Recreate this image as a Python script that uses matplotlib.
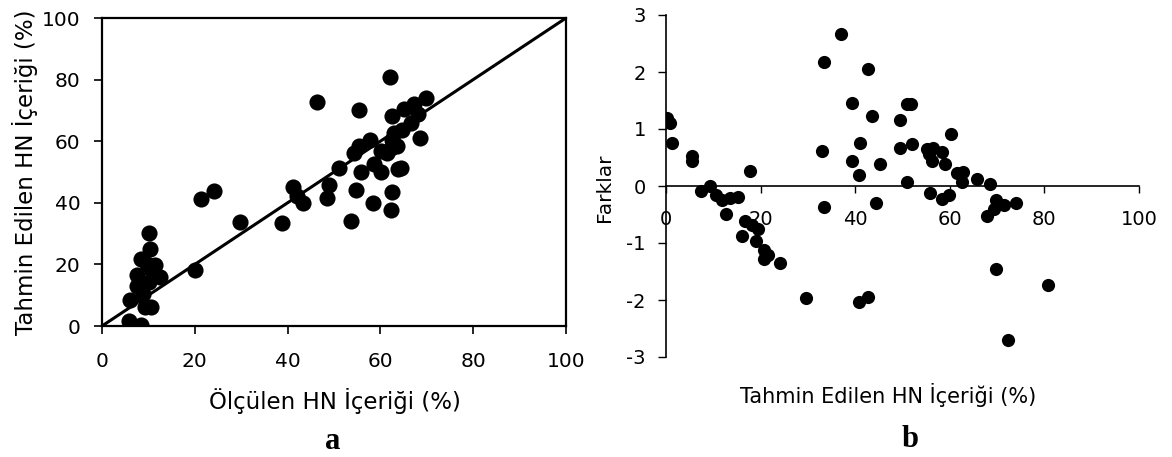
import matplotlib
matplotlib.use("Agg")
import matplotlib.pyplot as plt

plt.rcParams['font.family'] = ['DejaVu Sans']
plt.rcParams['axes.unicode_minus'] = False

# Panel a: measured vs predicted HN content (%)
measured = [62.1, 46.3, 55.3, 69.9, 67.3, 65.0, 62.5, 68.0, 66.5, 64.7,
            62.9, 68.6, 57.8, 55.3, 54.3, 63.5, 62.6, 60.1, 61.5, 62.2,
            58.6, 60.1, 64.4, 63.8, 51.1, 55.8, 48.9, 54.8, 62.6, 48.4,
            58.3, 62.2, 53.6, 41.2, 42.1, 43.3, 38.8, 29.8, 21.4, 24.1,
            20.1, 10.1, 10.4, 8.3, 11.4, 9.7, 7.6, 12.6, 10.8, 7.6,
            8.8, 6.1, 9.2, 10.6, 5.9, 8.4, 10.1]
predicted = [80.9, 72.6, 70.1, 73.9, 72.0, 70.3, 68.2, 68.8, 66.0, 63.7,
             62.6, 61.0, 60.4, 58.5, 56.3, 58.3, 60.4, 56.7, 56.1, 57.7,
             52.7, 50.0, 51.3, 51.0, 51.3, 50.0, 45.7, 44.3, 43.5, 41.7,
             39.8, 37.8, 34.1, 45.1, 42.2, 39.8, 33.3, 33.9, 41.1, 43.7,
             18.3, 30.1, 24.9, 21.7, 19.9, 20.1, 16.6, 16.0, 18.0, 12.9,
             10.4, 8.3, 6.1, 6.1, 1.6, 0.2, 14.2]
line_x = [0, 100]
line_y = [0, 100]

# Panel b: predicted vs differences
pred_b = [37.1, 33.3, 42.8, 39.3, 43.5, 50.9, 51.7, 49.5, 0.3, 0.8,
          1.2, 5.4, 5.6, 32.9, 41.0, 39.3, 40.7, 45.2, 49.5, 52.1,
          60.2, 55.1, 56.5, 58.3, 55.7, 56.2, 59.0, 61.5, 62.7, 62.5,
          65.8, 68.4, 50.9, 17.8, 7.5, 9.3, 10.6, 11.8, 13.5, 15.3,
          12.7, 16.6, 18.1, 19.5, 16.1, 19.0, 20.7, 21.5, 20.7, 24.2,
          29.6, 40.7, 42.8, 33.4, 44.4, 55.9, 58.3, 59.9, 67.9, 69.8,
          69.3, 71.5, 73.9, 69.8, 72.2, 80.7]
diff_b = [2.67, 2.17, 2.06, 1.46, 1.22, 1.44, 1.44, 1.15, 1.20, 1.10,
          0.76, 0.52, 0.44, 0.62, 0.76, 0.44, 0.20, 0.38, 0.66, 0.73,
          0.91, 0.65, 0.66, 0.59, 0.57, 0.44, 0.38, 0.22, 0.25, 0.07,
          0.13, 0.03, 0.07, 0.26, -0.09, 0.0, -0.16, -0.24, -0.21, -0.19,
          -0.49, -0.61, -0.68, -0.75, -0.87, -0.97, -1.12, -1.21, -1.28, -1.35,
          -1.96, -2.04, -1.95, -0.37, -0.29, -0.12, -0.22, -0.15, -0.52, -0.25,
          -0.40, -0.34, -0.29, -1.46, -2.71, -1.74]

ticks_a = [0, 20, 40, 60, 80, 100]
ticks_b_x = [0, 20, 40, 60, 80, 100]
ticks_b_y = [-3, -2, -1, 0, 1, 2, 3]

W, H = 1172, 457
fig = plt.figure(figsize=(W / 100, H / 100), dpi=100)

# ---------- Panel a ----------
axa = fig.add_axes([102 / W, 1 - 326 / H, 464 / W, 308 / H])
axa.scatter(measured, predicted, s=135, color='black', zorder=3, linewidths=0)
axa.plot(line_x, line_y, color='black', lw=2.2, zorder=2)
axa.set_xlim(0, 100)
axa.set_ylim(0, 100)
axa.set_xticks(ticks_a)
axa.set_yticks(ticks_a)
for s in axa.spines.values():
    s.set_linewidth(1.6)
axa.tick_params(axis='x', direction='out', length=5.5, width=1.2, pad=13, labelsize=14.5)
axa.tick_params(axis='y', direction='out', length=5.5, width=1.2, pad=10, labelsize=14.5)
axa.set_xlabel('Ölçülen HN İçeriği (%)', fontsize=16.5, va='center', ha='center')
axa.xaxis.set_label_coords(0.502, -0.243)
axa.set_ylabel('Tahmin Edilen HN İçeriği (%)', fontsize=16.5, va='center', ha='center')
axa.yaxis.set_label_coords(-0.166, 0.5)

# ---------- Panel b ----------
axb = fig.add_axes([666 / W, 1 - 357 / H, 473 / W, 342 / H])
axb.scatter(pred_b, diff_b, s=90, color='black', zorder=3, linewidths=0)
axb.set_xlim(0, 100)
axb.set_ylim(-3, 3)
axb.set_xticks(ticks_b_x)
axb.set_yticks(ticks_b_y)
axb.spines['top'].set_visible(False)
axb.spines['right'].set_visible(False)
axb.spines['bottom'].set_position(('data', 0))
axb.spines['bottom'].set_linewidth(1.2)
axb.spines['left'].set_linewidth(1.2)
axb.tick_params(axis='x', direction='out', length=5, width=1.0, pad=12, labelsize=14)
axb.tick_params(axis='y', direction='out', length=5.5, width=1.0, pad=9, labelsize=14)
axb.set_xlabel('Tahmin Edilen HN İçeriği (%)', fontsize=15, va='center', ha='center')
axb.xaxis.set_label_coords(0.469, -0.111)
axb.set_ylabel('Farklar', fontsize=14.5, va='center', ha='center')
axb.yaxis.set_label_coords(-0.129, 0.494)

fig.text(333 / W, 1 - 449 / H, 'a', fontsize=22, fontweight='bold',
         family='Liberation Serif', ha='center', va='baseline')
fig.text(910 / W, 1 - 447 / H, 'b', fontsize=22, fontweight='bold',
         family='Liberation Serif', ha='center', va='baseline')

fig.savefig('out.png', dpi=100)
